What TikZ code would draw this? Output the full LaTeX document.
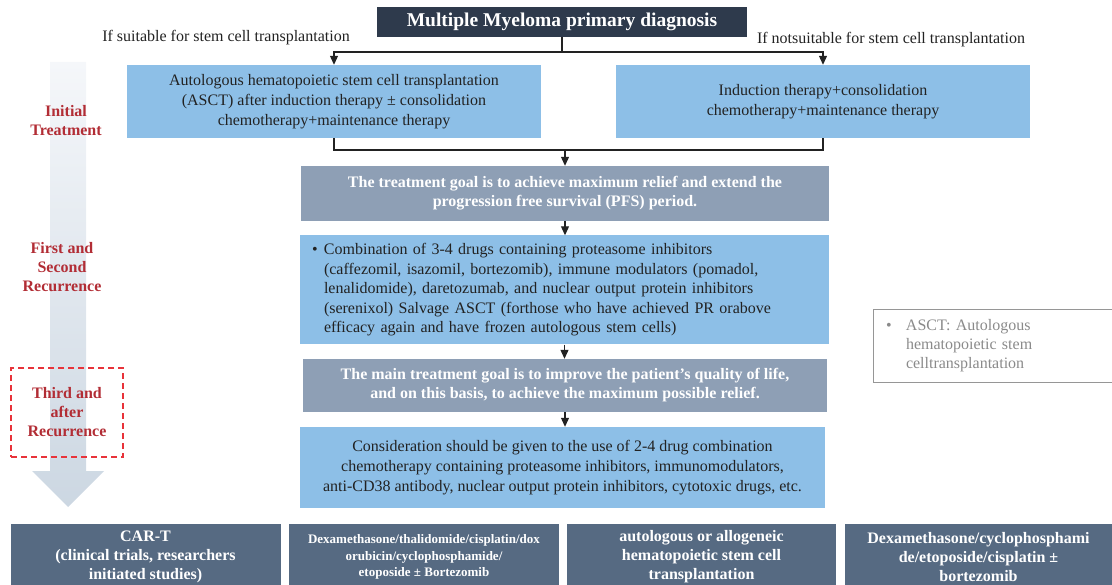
\documentclass[tikz,border=0pt]{standalone}
\usepackage{fontspec}
\setmainfont{Liberation Serif}[Ligatures=ResetAll]
\usetikzlibrary{arrows.meta}
\definecolor{titlec}{HTML}{2E3A4C}
\definecolor{boxblue}{HTML}{8DBFE7}
\definecolor{boxgray}{HTML}{8E9FB5}
\definecolor{botblue}{HTML}{566A82}
\definecolor{textdark}{HTML}{222222}
\definecolor{linec}{HTML}{222222}
\definecolor{redtxt}{HTML}{B22D35}
\definecolor{reddash}{HTML}{E8333A}
\definecolor{notegray}{HTML}{8A8A8A}
\definecolor{arrtop}{HTML}{F5F7FA}
\definecolor{arrbot}{HTML}{CCD7E2}
\begin{document}
\begin{tikzpicture}[x=1pt,y=-1pt,
  box/.style={inner sep=0pt, align=center},
  bluebox/.style={box, fill=boxblue, text=textdark, font=\fontsize{16}{19.7}\selectfont},
  graybox/.style={box, fill=boxgray, text=white, font=\bfseries\fontsize{16}{19}\selectfont},
  botbox/.style={box, fill=botblue, text=white, font=\bfseries\fontsize{16}{19}\selectfont, minimum height=66pt},
  lab/.style={inner sep=0pt, text=textdark, font=\fontsize{16}{18}\selectfont},
  stage/.style={inner sep=0pt, align=center, text=redtxt, font=\bfseries\fontsize{16}{19}\selectfont},
  conn/.style={draw=linec, line width=1.1pt},
  arr/.style={conn, -{Triangle[length=9pt,width=8pt]}}]
\useasboundingbox (0,0) rectangle (1112,585);
% gradient arrow
\shade[top color=arrtop, bottom color=arrbot]
  (50,62) -- (86,62) -- (86,471) -- (104,471) -- (68,507) -- (32,471) -- (50,471) -- cycle;
% stage labels
\node[stage] (st1) at (66,121) {Initial\\Treatment};
\node[stage] (st2) at (62,267) {First and\\Second\\Recurrence};
\node[stage, draw=reddash, line width=1.5pt, dash pattern=on 6pt off 4pt,
  minimum width=112pt, minimum height=89pt] (st3) at (67,412.5) {Third and\\after\\Recurrence};
% title
\node[box, fill=titlec, text=white, font=\bfseries\fontsize{19.5}{22}\selectfont,
  minimum width=370pt, minimum height=30pt] (title) at (562,22) {Multiple Myeloma primary diagnosis};
\node[lab] (lab1) at (226,38) {If suitable for stem cell transplantation};
\node[lab] (lab2) at (891,40) {If notsuitable for stem cell transplantation};
% initial boxes
\node[bluebox, minimum width=414pt, minimum height=73pt] (left) at (334,101.5)
  {Autologous hematopoietic stem cell transplantation\\(ASCT) after induction therapy ± consolidation\\chemotherapy+maintenance therapy};
\node[bluebox, minimum width=414pt, minimum height=73pt] (right) at (823,101.5)
  {Induction therapy+consolidation\\chemotherapy+maintenance therapy};
% goal 1
\node[graybox, minimum width=528pt, minimum height=55pt] (goal1) at (565,193.5)
  {The treatment goal is to achieve maximum relief and extend the\\progression free survival (PFS) period.};
% relapse box
\node[bluebox, font=\fontsize{16}{19.5}\selectfont, minimum width=529pt, minimum height=109pt, text width=505pt, align=left] (rel) at (564.5,290)
  {\makebox[12pt][l]{\textbullet}Combination of 3-4 drugs containing proteasome inhibitors\\
   \hspace*{12pt}(caffezomil, isazomil, bortezomib), immune modulators (pomadol,\\
   \hspace*{12pt}lenalidomide), daretozumab, and nuclear output protein inhibitors\\
   \hspace*{12pt}(serenixol) Salvage ASCT (forthose who have achieved PR orabove\\
   \hspace*{12pt}efficacy again and have frozen autologous stem cells)};
% goal 2
\node[graybox, minimum width=524pt, minimum height=53pt] (goal2) at (565,385.5)
  {The main treatment goal is to improve the patient's quality of life,\\and on this basis, to achieve the maximum possible relief.};
% third box
\node[bluebox, minimum width=525pt, minimum height=81pt] (third) at (562.5,467.5)
  {Consideration should be given to the use of 2-4 drug combination\\chemotherapy containing proteasome inhibitors, immunomodulators,\\anti-CD38 antibody, nuclear output protein inhibitors, cytotoxic drugs, etc.};
% note
\node[draw=notegray!90, line width=0.8pt, inner sep=0pt, minimum width=239pt, minimum height=73pt,
  text width=213pt, align=left, text=notegray, font=\fontsize{16}{19}\selectfont] (note) at (992.5,346)
  {\makebox[20pt][l]{\textbullet}ASCT: Autologous\\\hspace*{20pt}hematopoietic stem\\\hspace*{20pt}celltransplantation};
% bottom boxes
\node[botbox, minimum width=270pt] (b1) at (145.5,557)
  {CAR-T\\(clinical trials, researchers\\initiated studies)};
\node[botbox, minimum width=270pt, font=\bfseries\fontsize{13}{16.5}\selectfont] (b2) at (424,557)
  {Dexamethasone/thalidomide/cisplatin/dox\\orubicin/cyclophosphamide/\\etoposide ± Bortezomib};
\node[botbox, minimum width=269pt] (b3) at (701.5,557)
  {autologous or allogeneic\\hematopoietic stem cell\\transplantation};
\node[botbox, minimum width=268pt] (b4) at (978.5,557)
  {Dexamethasone/cyclophosphami\\de/etoposide/cisplatin ±\\bortezomib};
% connectors
\coordinate (fork) at (562,52);
\draw[conn] (title.south) -- (fork);
\draw[arr] (fork) -| (left.north);
\draw[arr] (fork) -| (right.north);
\coordinate (merge) at (565,150);
\draw[conn] (left.south) |- (merge);
\draw[conn] (right.south) |- (merge);
\draw[arr] (merge) -- (goal1.north);
\draw[arr] (goal1.south) -- (goal1.south |- rel.north);
\draw[arr] (rel.south) -- (rel.south |- goal2.north);
\draw[arr] (goal2.south) -- (goal2.south |- third.north);
\end{tikzpicture}
\end{document}
